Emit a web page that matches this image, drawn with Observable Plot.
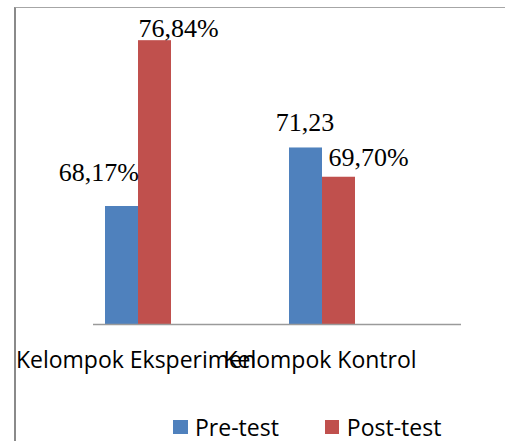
<!DOCTYPE html>
<html>
<head>
<meta charset="utf-8">
<script src="https://cdn.jsdelivr.net/npm/d3@7"></script>
<script src="https://cdn.jsdelivr.net/npm/@observablehq/plot@0.6"></script>
<style>
  html, body { margin: 0; padding: 0; background: #fff; }
  #wrap { position: relative; width: 505px; height: 441px; overflow: hidden; }
  #frame { position: absolute; left: 14px; top: 7px; right: 0; bottom: 0;
           border-left: 2px solid #8a8a8a; border-top: 1.5px solid #a6a6a6; pointer-events: none; z-index: 2; }
  #legend { display: flex; align-items: center; height: 29px; padding-top: 12px;
            font-family: "Open Sans", sans-serif; font-size: 23px; color: #000; }
  .sw { display: inline-block; width: 14.5px; height: 14px; margin-right: 7.5px; }
  .item { display: flex; align-items: center; }
</style>
</head>
<body>
<div id="wrap">
  <div id="chart"></div>
  <div id="legend"></div>
  <div id="frame"></div>
</div>
<script>
// ---- data ----
const groups = ["Kelompok Eksperimen", "Kelompok Kontrol"];
const series = ["Pre-test", "Post-test"];
const preValues = [68.17, 71.23];
const postValues = [76.84, 69.70];
const valueLabels = [["68,17%", "76,84%"], ["71,23", "69,70%"]];
const yDomain = [62, 78];
const colors = ["#4F81BD", "#C0504D"];

const data = groups.flatMap((g, i) => series.map((s, j) => ({
  group: g, series: s, value: (j === 0 ? preValues : postValues)[i], label: valueLabels[i][j]
})));

// label placement (styling, mimics manually placed labels)
const placement = [
  {textAnchor: "end", dx: 17, dy: -25},
  {textAnchor: "start", dx: -16.5, dy: -3.5},
  {textAnchor: "middle", dx: -1, dy: -17},
  {textAnchor: "start", dx: -10.5, dy: -11.5}
];

const labelMarks = data.map((d, k) => Plot.text([d], {
  fx: "group", x: "series", y: "value", text: "label",
  lineAnchor: "bottom", fontFamily: "'Liberation Serif', 'Times New Roman', serif",
  fontSize: 26, fill: "#000", ...placement[k]
}));

const chart = Plot.plot({
  width: 505, height: 400,
  marginLeft: 92, marginRight: 44, marginTop: 18, marginBottom: 76,
  style: {background: "transparent", fontFamily: "'Open Sans', sans-serif"},
  fx: {domain: groups, padding: 0, axis: null},
  x: {domain: series, paddingInner: 0, paddingOuter: 1.754, align: 0.102, axis: null},
  y: {domain: yDomain, axis: null},
  color: {domain: series, range: colors},
  marks: [
    Plot.barY(data, {fx: "group", x: "series", y1: yDomain[0], y2: "value", fill: "series"}),
    Plot.ruleY([yDomain[0]], {stroke: "#9a9a9a", strokeWidth: 1.5}),
    ...labelMarks,
    Plot.text(groups, {fx: d => d, x: () => series[0], text: d => d, frameAnchor: "bottom",
      lineAnchor: "bottom", dy: 43, dx: 14, fontSize: 23, fill: "#000",
      fontFamily: "'Open Sans', sans-serif"})
  ]
});
document.getElementById("chart").appendChild(chart);

const legend = document.getElementById("legend");
legend.style.paddingLeft = "173px";
series.forEach((s, i) => {
  const item = document.createElement("div");
  item.className = "item";
  if (i > 0) item.style.marginLeft = "46px";
  const sw = document.createElement("span");
  sw.className = "sw";
  sw.style.background = colors[i];
  item.appendChild(sw);
  item.appendChild(document.createTextNode(s));
  legend.appendChild(item);
});
</script>
</body>
</html>
